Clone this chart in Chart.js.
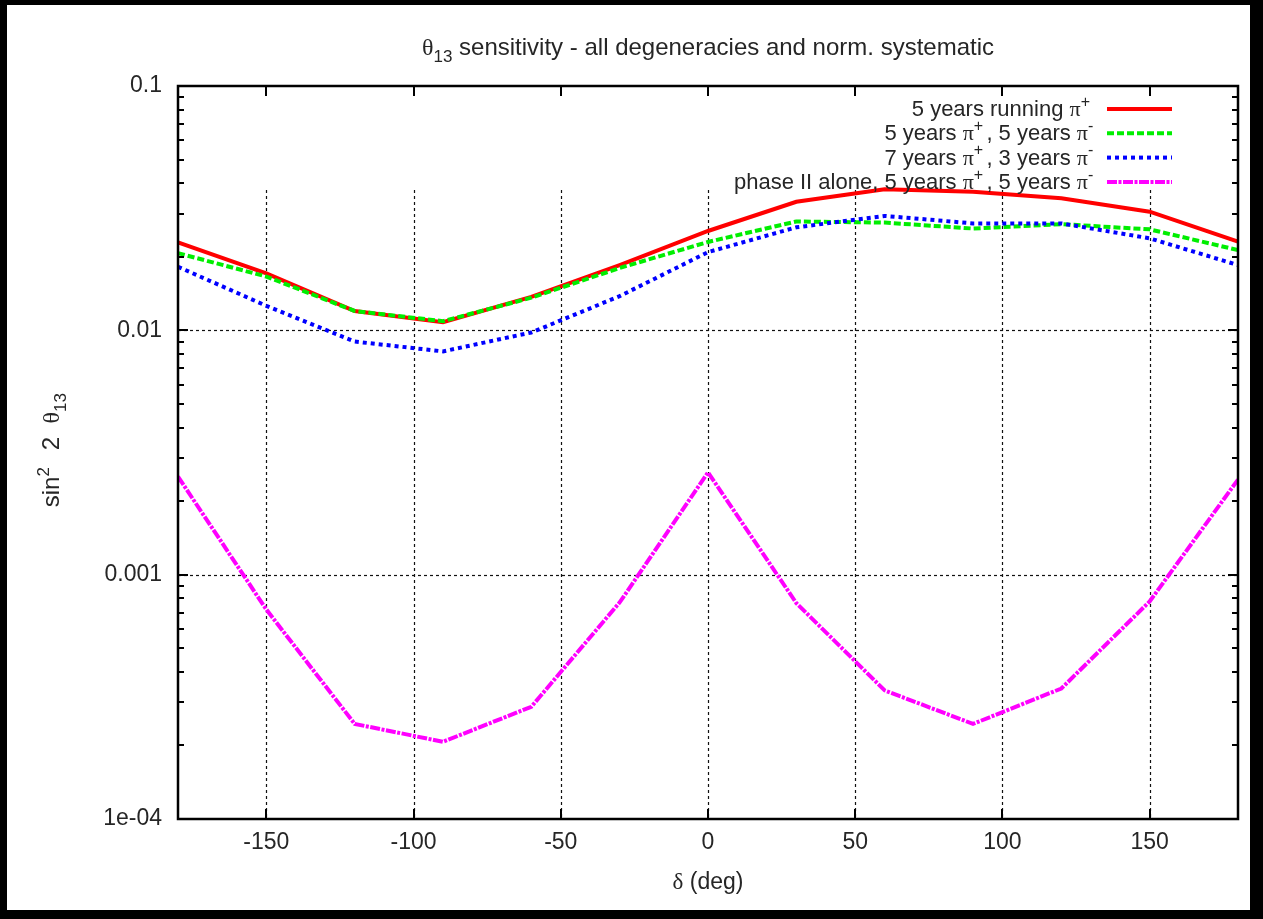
<!DOCTYPE html>
<html lang="en">
<head>
<meta charset="utf-8" />
<title>theta13 sensitivity</title>
<script src="https://cdn.jsdelivr.net/npm/chart.js@4.4.0/dist/chart.umd.min.js"></script>
<style>
  html, body { margin: 0; padding: 0; background: #000; }
  #wrap { position: absolute; left: 7px; top: 5px; width: 1243px; height: 905px; background: #fff; }
</style>
</head>
<body>
<div id="wrap"><canvas id="myChart" width="1243" height="905"></canvas></div>
<script>
// delta (deg) grid of the scan
const deltaDeg = [-180, -150, -120, -90, -60, -30, 0, 30, 60, 90, 120, 150, 180];

// sin^2 2theta13 sensitivity
const run5plus       = [0.0229, 0.0171, 0.0120, 0.0108, 0.0137, 0.0185, 0.0255, 0.0336, 0.0378, 0.0369, 0.0347, 0.0306, 0.0231];
const run5plus5minus = [0.0207, 0.0166, 0.0120, 0.0109, 0.0136, 0.0180, 0.0230, 0.0279, 0.0276, 0.0261, 0.0272, 0.0259, 0.0213];
const run7plus3minus = [0.0182, 0.0126, 0.0090, 0.0082, 0.0098, 0.0138, 0.0209, 0.0264, 0.0294, 0.0274, 0.0274, 0.0238, 0.0185];
const phase2alone    = [0.00252, 0.00072, 0.000245, 0.000207, 0.000288, 0.00077, 0.00262, 0.000765, 0.000336, 0.000245, 0.000342, 0.000777, 0.00245];

const seriesLabels = [
  '5 years running π⁺',
  '5 years π⁺, 5 years π⁻',
  '7 years π⁺, 3 years π⁻',
  'phase II alone, 5 years π⁺, 5 years π⁻'
];

const xTickValues = [-150, -100, -50, 0, 50, 100, 150];
const yTickValues = [1e-4, 1e-3, 1e-2, 1e-1];
const yTickLabels = ['1e-04', '0.001', '0.01', '0.1'];
const yGridValues = [1e-3, 1e-2];

const chartTitle = 'θ₁₃ sensitivity - all degeneracies and norm. systematic';
const xTitle = 'δ (deg)';
const yTitle = 'sin² 2 θ₁₃';

const FONT = '"Liberation Sans", Arial, sans-serif';
const TEXT = '#262626';

// little rich text helper for super/subscripts and greek letters
const SUP = { '⁺': '+', '⁻': '-', '²': '2' };
const SUB = { '₁': '1', '₃': '3' };
function toRuns(str) {
  const runs = [];
  for (const ch of str) {
    let kind = 'n', t = ch;
    if (SUP[ch]) { kind = 'sup'; t = SUP[ch]; }
    else if (SUB[ch]) { kind = 'sub'; t = SUB[ch]; }
    else if (/[πθδ]/.test(ch)) kind = 'g';
    const last = runs[runs.length - 1];
    if (last && last.kind === kind) last.t += t; else runs.push({ kind, t });
  }
  return runs;
}
function runFont(kind, size) {
  if (kind === 'sup' || kind === 'sub') return Math.round(size * 0.72) + 'px ' + FONT;
  if (kind === 'g') return size + 'px "Liberation Serif", serif';
  return size + 'px ' + FONT;
}
function runsWidth(ctx, runs, size) {
  let w = 0;
  runs.forEach(r => { ctx.font = runFont(r.kind, size); w += ctx.measureText(r.t).width; });
  return w;
}
function drawRich(ctx, str, x, y, size, align) {
  const runs = toRuns(str);
  const w = runsWidth(ctx, runs, size);
  let cx = align === 'center' ? x - w / 2 : (align === 'right' ? x - w : x);
  ctx.textAlign = 'left';
  ctx.textBaseline = 'alphabetic';
  ctx.fillStyle = TEXT;
  runs.forEach(r => {
    ctx.font = runFont(r.kind, size);
    const dy = r.kind === 'sup' ? -size * 0.42 : (r.kind === 'sub' ? size * 0.28 : 0);
    ctx.fillText(r.t, cx, y + dy);
    cx += ctx.measureText(r.t).width + (r.kind === 'sup' ? size * 0.15 : 0);
  });
}

const gnuplotLook = {
  id: 'gnuplotLook',
  beforeDatasetsDraw(chart) {
    const ctx = chart.ctx, a = chart.chartArea;
    const xs = chart.scales.x, ys = chart.scales.y;
    ctx.save();
    ctx.strokeStyle = '#111';
    ctx.lineWidth = 1.2;
    ctx.setLineDash([3, 3]);
    xTickValues.forEach(v => {
      const px = Math.round(xs.getPixelForValue(v)) + 0.5;
      ctx.beginPath(); ctx.moveTo(px, 185); ctx.lineTo(px, a.bottom); ctx.stroke();
    });
    yGridValues.forEach(v => {
      const py = Math.round(ys.getPixelForValue(v)) + 0.5;
      ctx.beginPath(); ctx.moveTo(a.left, py); ctx.lineTo(a.right, py); ctx.stroke();
    });
    ctx.restore();
  },
  afterDatasetsDraw(chart) {
    const ctx = chart.ctx, a = chart.chartArea;
    const xs = chart.scales.x, ys = chart.scales.y;
    ctx.save();
    ctx.setLineDash([]);
    ctx.strokeStyle = '#000';
    ctx.lineWidth = 2;
    const seg = (x1, y1, x2, y2) => { ctx.beginPath(); ctx.moveTo(x1, y1); ctx.lineTo(x2, y2); ctx.stroke(); };
    xTickValues.forEach(v => {
      const px = Math.round(xs.getPixelForValue(v));
      seg(px, a.bottom, px, a.bottom - 10);
      seg(px, a.top, px, a.top + 10);
    });
    for (let d = -4; d <= -2; d++) {
      for (let m = 1; m <= 9; m++) {
        const py = Math.round(ys.getPixelForValue(m * Math.pow(10, d)));
        const len = m === 1 ? 10 : 6;
        seg(a.left, py, a.left + len, py);
        seg(a.right, py, a.right - len, py);
      }
    }
    ctx.lineWidth = 2.5;
    ctx.strokeRect(a.left, a.top, a.right - a.left, a.bottom - a.top);

    // key, right aligned text with the line sample on its right
    chart.data.datasets.forEach((ds, i) => {
      const yLine = 104 + i * 24.3;
      ctx.save();
      ctx.strokeStyle = ds.borderColor;
      ctx.lineWidth = ds.borderWidth;
      ctx.setLineDash(ds.borderDash || []);
      seg(1100, yLine, 1165, yLine);
      ctx.restore();
      drawRich(ctx, ds.label, 1083, yLine + 7, 22, 'right');
    });
    ctx.restore();
  },
  afterDraw(chart) {
    const ctx = chart.ctx, a = chart.chartArea;
    const cx = (a.left + a.right) / 2;
    ctx.save();
    drawRich(ctx, chartTitle, cx, 50, 24, 'center');
    drawRich(ctx, xTitle, cx, 884, 23, 'center');
    ctx.translate(52, 447);
    ctx.rotate(-Math.PI / 2);
    drawRich(ctx, yTitle.replace(/ /g, '  '), 0, 0, 24, 'center');
    ctx.restore();
  }
};

const toPoints = arr => deltaDeg.map((d, i) => ({ x: d, y: arr[i] }));

const ctx = document.getElementById('myChart').getContext('2d');
const myChart = new Chart(ctx, {
  type: 'line',
  data: {
    datasets: [
      { label: seriesLabels[0], data: toPoints(run5plus), borderColor: '#ff0000', borderWidth: 4, order: 4 },
      { label: seriesLabels[1], data: toPoints(run5plus5minus), borderColor: '#00ee00', borderWidth: 4, borderDash: [7, 3], order: 3 },
      { label: seriesLabels[2], data: toPoints(run7plus3minus), borderColor: '#0000ff', borderWidth: 4, borderDash: [4, 4], order: 2 },
      { label: seriesLabels[3], data: toPoints(phase2alone), borderColor: '#ff00ff', borderWidth: 4, borderDash: [10, 1.5, 3, 1.5], order: 1 }
    ]
  },
  options: {
    responsive: false,
    animation: false,
    devicePixelRatio: 1,
    layout: { padding: { top: 81, right: 12, bottom: 0, left: 0 } },
    elements: { point: { radius: 0 }, line: { tension: 0, fill: false, borderCapStyle: 'butt' } },
    plugins: { legend: { display: false }, title: { display: false }, tooltip: { enabled: false } },
    scales: {
      x: {
        type: 'linear',
        min: -180, max: 180,
        afterBuildTicks: s => { s.ticks = xTickValues.map(v => ({ value: v })); },
        afterFit: s => { s.height = 91; },
        grid: { display: false, drawTicks: false },
        border: { display: false },
        ticks: { padding: 10, color: TEXT, font: { family: FONT, size: 23 }, maxRotation: 0 }
      },
      y: {
        type: 'logarithmic',
        min: 1e-4, max: 0.1,
        afterBuildTicks: s => { s.ticks = yTickValues.map(v => ({ value: v })); },
        afterFit: s => { s.width = 171; },
        grid: { display: false, drawTicks: false },
        border: { display: false },
        ticks: {
          padding: 16, color: TEXT, font: { family: FONT, size: 23 },
          callback: v => yTickLabels[yTickValues.findIndex(t => Math.abs(t - v) / t < 1e-6)]
        }
      }
    }
  },
  plugins: [gnuplotLook]
});
</script>
</body>
</html>
